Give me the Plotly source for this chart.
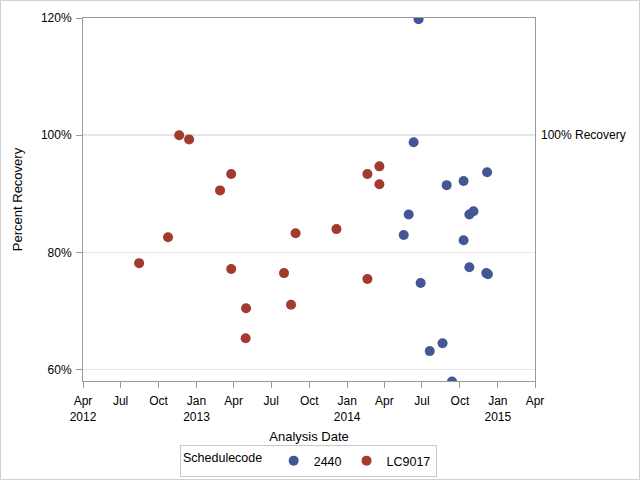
import plotly.graph_objects as go

# Series 2440
dates_2440 = ["2014-06-23", "2014-06-11", "2014-08-30", "2014-10-10", "2014-12-06",
              "2014-05-30", "2014-05-18", "2014-10-24", "2014-11-03", "2014-10-10",
              "2014-10-24", "2014-12-04", "2014-12-08", "2014-06-28", "2014-08-20",
              "2014-07-20", "2014-09-12"]
pct_2440 = [119.8, 98.8, 91.5, 92.2, 93.7,
            86.5, 83.0, 86.5, 87.05, 82.1,
            77.5, 76.5, 76.3, 74.8, 64.55,
            63.2, 58.0]

# Series LC9017
dates_lc = ["2012-11-20", "2012-12-14", "2013-03-26", "2013-02-27", "2012-10-24",
            "2013-08-29", "2012-08-15", "2013-03-26", "2013-08-01", "2013-05-01",
            "2013-08-18", "2013-04-30", "2013-12-06", "2014-02-19", "2014-03-20",
            "2014-03-20", "2014-02-19"]
pct_lc = [100.0, 99.3, 93.4, 90.6, 82.6,
          83.3, 78.2, 77.2, 76.5, 70.5,
          71.1, 65.4, 84.0, 93.4, 94.7,
          91.65, 75.5]

x_tickvals = ["2012-04-01", "2012-07-01", "2012-10-01", "2013-01-01", "2013-04-01",
              "2013-07-01", "2013-10-01", "2014-01-01", "2014-04-01", "2014-07-01",
              "2014-10-01", "2015-01-01", "2015-04-01"]
x_ticktext = ["Apr<br>2012", "Jul", "Oct", "Jan<br>2013", "Apr", "Jul", "Oct",
              "Jan<br>2014", "Apr", "Jul", "Oct", "Jan<br>2015", "Apr"]
y_tickvals = [60, 80, 100, 120]
y_ticktext = ["60%", "80%", "100%", "120%"]
ref_value = 100
ref_label = "100% Recovery"

BLUE = "#445694"
RED = "#A23A2E"
FONT = "Liberation Sans, Arial, sans-serif"

fig = go.Figure()
fig.add_trace(go.Scatter(x=dates_2440, y=pct_2440, mode="markers", name="2440",
                         marker=dict(color=BLUE, size=10), cliponaxis=True))
fig.add_trace(go.Scatter(x=dates_lc, y=pct_lc, mode="markers", name="LC9017",
                         marker=dict(color=RED, size=10), cliponaxis=True))

fig.add_shape(type="line", xref="paper", x0=0, x1=1, yref="y", y0=ref_value, y1=ref_value,
              line=dict(color="#9a9a9a", width=1.3), layer="below")
fig.add_annotation(text=ref_label, xref="paper", x=1.008, yref="y", y=ref_value,
                   xanchor="left", yanchor="middle", showarrow=False,
                   font=dict(family=FONT, size=12, color="#000000"))

W, H = 640, 480
L, R, T, B = 83, 105, 18, 99
pw, ph = W - L - R, H - T - B
fig.add_shape(type="rect", xref="paper", yref="paper",
              x0=(-L + 0.5) / pw, x1=(W - L - 0.5) / pw,
              y0=(-B + 0.5) / ph, y1=(H - B - 0.5) / ph,
              line=dict(color="#d0d0d0", width=1))

fig.update_layout(
    template="none",
    width=W, height=H,
    margin=dict(l=L, r=R, t=T, b=B, pad=0, autoexpand=False),
    paper_bgcolor="white", plot_bgcolor="white",
    font=dict(family=FONT, size=12, color="#000000"),
    showlegend=True,
    legend=dict(orientation="h", x=0.482, xref="container", xanchor="center",
                y=(480 - 445) / 480, yref="container", yanchor="top",
                title=dict(text="Schedulecode ", side="left", font=dict(size=12.5)),
                bordercolor="#c8c8c8", borderwidth=1, font=dict(size=12.5),
                itemwidth=30, tracegroupgap=0),
    xaxis=dict(type="date", range=["2012-04-01", "2015-04-01"],
               tickvals=x_tickvals, ticktext=x_ticktext, automargin=False,
               showgrid=False, showline=True, mirror=True, linecolor="#9a9a9a",
               ticks="outside", ticklen=6, tickcolor="#9a9a9a", ticklabelstandoff=3,
               tickfont=dict(size=12), zeroline=False,
               title=dict(text="Analysis Date", font=dict(size=13), standoff=8)),
    yaxis=dict(range=[58.1, 120], tickvals=y_tickvals, ticktext=y_ticktext,
               showgrid=True, gridcolor="#e6e6e6", showline=True, mirror=True,
               linecolor="#9a9a9a", ticks="outside", ticklen=6, tickcolor="#9a9a9a",
               ticklabelstandoff=2,
               tickfont=dict(size=12), zeroline=False, automargin=False,
               title=dict(text="Percent Recovery", font=dict(size=13), standoff=15)),
)

fig.write_html("out.html", config={"displayModeBar": False},
               post_script="document.body.style.margin='0';")
